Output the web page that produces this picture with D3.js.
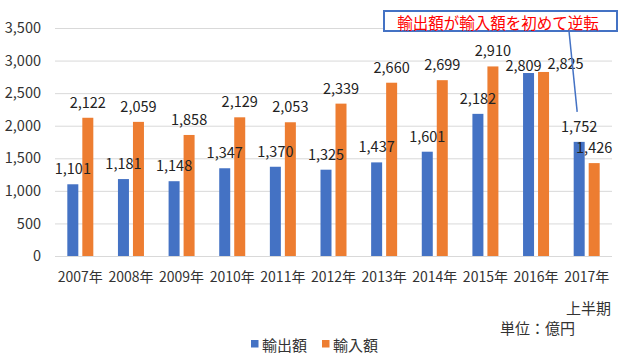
<!DOCTYPE html>
<html><head><meta charset="utf-8">
<script src="https://cdn.jsdelivr.net/npm/d3@7"></script>
<style>
html,body{margin:0;padding:0;background:#fff;}
svg{display:block;font-family:"Noto Sans CJK JP","Noto Sans",sans-serif;}
</style></head>
<body>
<svg id="chart" width="623" height="357"></svg>
<script>
const years = ["2007年","2008年","2009年","2010年","2011年","2012年","2013年","2014年","2015年","2016年","2017年"];
const exportsVals = [1101,1181,1148,1347,1370,1325,1437,1601,2182,2809,1752];
const importsVals = [2122,2059,1858,2129,2053,2339,2660,2699,2910,2825,1426];
const seriesNames = ["輸出額","輸入額"];
const yTicks = [0,500,1000,1500,2000,2500,3000,3500];
const annotationText = "輸出額が輸入額を初めて逆転";
const subLabel = "上半期";
const unitLabel = "単位：億円";

const colors = ["#4472c4","#ed7d31"];
const svg = d3.select("#chart");

const x0 = d3.scaleBand().domain(years).range([55,612]).padding(0);
const x1 = d3.scaleBand().domain([0,1]).range([0,26]).paddingInner(0.2667).paddingOuter(0);
const groupOff = (x0.bandwidth()-26)/2;
const y = d3.scaleLinear().domain([0,3500]).range([256,28]);

// grid
svg.append("g").selectAll("line").data(yTicks).join("line")
  .attr("x1",55).attr("x2",612)
  .attr("y1",d=>y(d)+0.5).attr("y2",d=>y(d)+0.5)
  .attr("stroke","#d9d9d9").attr("stroke-width",1);

// y axis labels
const yAxis = d3.axisLeft(y).tickValues(yTicks).tickFormat(d3.format(",")).tickSize(0).tickPadding(0);
const ya = svg.append("g").attr("transform","translate(41,0)").call(yAxis);
ya.select(".domain").remove();
ya.selectAll("text").attr("font-size",14.5).attr("fill","#333").attr("font-family","'Noto Sans CJK JP','Noto Sans',sans-serif");

// x axis labels
const xAxis = d3.axisBottom(x0).tickSize(0).tickPadding(0);
const xa = svg.append("g").attr("transform","translate(0,272)").call(xAxis);
xa.select(".domain").remove();
xa.selectAll("text").attr("font-size",14).attr("fill","#333").attr("dy","0.72em").attr("font-family","'Noto Sans CJK JP','Noto Sans',sans-serif");

const data = years.map((yr,i)=>({yr, vals:[exportsVals[i], importsVals[i]]}));

const groups = svg.append("g").selectAll("g").data(data).join("g")
  .attr("transform",d=>`translate(${x0(d.yr)+groupOff},0)`);

groups.selectAll("rect").data(d=>d.vals.map((v,k)=>({v,k,yr:d.yr}))).join("rect")
  .attr("x",d=>x1(d.k)).attr("width",x1.bandwidth())
  .attr("y",d=>y(d.v)).attr("height",d=>y(0)-y(d.v))
  .attr("fill",d=>colors[d.k]);

// value labels (2016 labels moved manually in the original)
function labelPos(d){
  let cx = x1(d.k)+x1.bandwidth()/2, cy = y(d.v)-16.5;
  if(d.yr==="2016年"){ cy = y(d.v)-9; cx += (d.k===0 ? -5 : 22); }
  return [cx,cy];
}
groups.selectAll("text").data(d=>d.vals.map((v,k)=>({v,k,yr:d.yr}))).join("text")
  .attr("x",d=>labelPos(d)[0]).attr("y",d=>labelPos(d)[1])
  .attr("text-anchor","middle").attr("dominant-baseline","central")
  .attr("font-size",14.5).attr("fill","#222")
  .text(d=>d3.format(",")(d.v));

// sub label & unit
svg.append("text").attr("x",611).attr("y",307).attr("text-anchor","end")
  .attr("dominant-baseline","central").attr("font-size",15).attr("fill","#333").text(subLabel);
svg.append("text").attr("x",575).attr("y",327).attr("text-anchor","end")
  .attr("dominant-baseline","central").attr("font-size",15).attr("fill","#333").text(unitLabel);

// legend
const lg = svg.append("g");
const legX = [251,322];
seriesNames.forEach((n,k)=>{
  lg.append("rect").attr("x",legX[k]).attr("y",340).attr("width",7.5).attr("height",7.5).attr("fill",colors[k]);
  lg.append("text").attr("x",legX[k]+11).attr("y",344).attr("dominant-baseline","central")
    .attr("font-size",15).attr("fill","#333").text(n);
});

// annotation callout
const last = years[years.length-1];
const lx = x0(last)+groupOff+x1(0)+x1.bandwidth()/2 - 2;
const ly = y(exportsVals[exportsVals.length-1]) - 30;
svg.append("line").attr("x1",569).attr("y1",31).attr("x2",lx).attr("y2",ly)
  .attr("stroke","#4472c4").attr("stroke-width",1.5);
svg.append("rect").attr("x",384).attr("y",11).attr("width",233).attr("height",20)
  .attr("fill","#fff").attr("stroke","#4472c4").attr("stroke-width",2);
svg.append("text").attr("x",498).attr("y",21.5).attr("text-anchor","middle")
  .attr("dominant-baseline","central").attr("font-size",15.5).attr("fill","#ff0000").text(annotationText);
</script>
</body></html>
